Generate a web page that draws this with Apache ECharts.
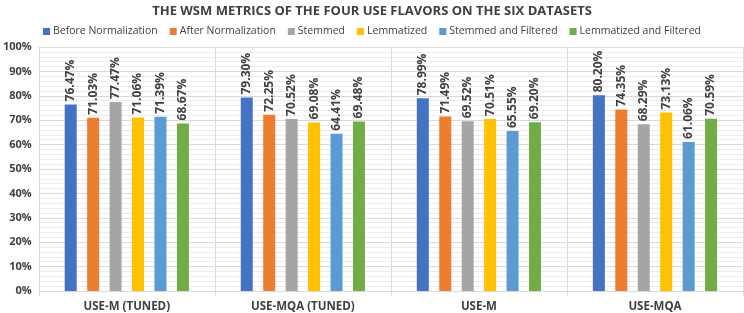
<!DOCTYPE html>
<html><head><meta charset="utf-8">
<script src="https://cdn.jsdelivr.net/npm/echarts@6/dist/echarts.min.js"></script>
<style>html,body{margin:0;padding:0;background:#fff}#c{width:744px;height:313px}</style>
</head><body><div id="c"></div>
<script>
const categories = ['USE-M (TUNED)', 'USE-MQA (TUNED)', 'USE-M', 'USE-MQA'];
const seriesNames = ['Before Normalization', 'After Normalization', 'Stemmed', 'Lemmatized', 'Stemmed and Filtered', 'Lemmatized and Filtered'];
const beforeNorm = [76.47, 79.30, 78.99, 80.20];
const afterNorm = [71.03, 72.25, 71.49, 74.35];
const stemmed = [77.47, 70.52, 69.52, 68.29];
const lemmatized = [71.06, 69.08, 70.51, 73.13];
const stemmedFiltered = [71.39, 64.41, 65.55, 61.06];
const lemmatizedFiltered = [68.67, 69.48, 69.20, 70.59];
const yTicks = [0, 10, 20, 30, 40, 50, 60, 70, 80, 90, 100];
const colors = ['#4472C4', '#ED7D31', '#A5A5A5', '#FFC000', '#5B9BD5', '#70AD47'];
const allData = [beforeNorm, afterNorm, stemmed, lemmatized, stemmedFiltered, lemmatizedFiltered];
const FONT = 'Open Sans';
const chart = echarts.init(document.getElementById('c'));
chart.setOption({
  animation: false,
  color: colors,
  title: {
    text: 'THE WSM METRICS OF THE FOUR USE FLAVORS ON THE SIX DATASETS',
    left: 'center', top: 0,
    textStyle: { fontFamily: FONT, fontSize: 13, fontWeight: 'bold', color: '#404040' }
  },
  legend: {
    top: 21, left: 'center', itemWidth: 7, itemHeight: 7, itemGap: 12, icon: 'rect',
    textStyle: { fontFamily: FONT, fontSize: 10.5, color: '#404040', padding: [0,0,0,-2] },
    data: seriesNames
  },
  grid: { left: 37, right: 1, top: 47, bottom: 22 },
  xAxis: {
    type: 'category', data: categories,
    axisLine: { lineStyle: { color: '#d9d9d9' } },
    axisTick: { show: true, length: 5, lineStyle: { color: '#d9d9d9' } },
    splitLine: { show: true, interval: 0, lineStyle: { color: '#d9d9d9' } },
    axisLabel: { fontFamily: FONT, fontSize: 11.5, fontWeight: 'bold', color: '#404040', margin: 10 }
  },
  yAxis: {
    type: 'value', min: yTicks[0], max: yTicks[yTicks.length-1], interval: 10,
    axisLabel: { formatter: '{value}%', fontFamily: FONT, fontSize: 11, fontWeight: 'bold', color: '#404040', margin: 7 },
    axisLine: { show: false }, axisTick: { show: false },
    splitLine: { lineStyle: { color: '#d9d9d9' } },
    minorTick: { show: false, splitNumber: 5 },
    minorSplitLine: { show: true, lineStyle: { color: '#ececec' } }
  },
  series: seriesNames.map((n, i) => ({
    name: n, type: 'bar', data: allData[i],
    barWidth: 12, barGap: '87%', barCategoryGap: '30%',
    label: {
      show: true, position: 'top', rotate: 90, align: 'left', verticalAlign: 'middle', distance: 3,
      formatter: p => p.value.toFixed(2) + '%',
      fontFamily: FONT, fontSize: 12, fontWeight: 'bold', color: '#404040'
    }
  }))
});
</script></body></html>
